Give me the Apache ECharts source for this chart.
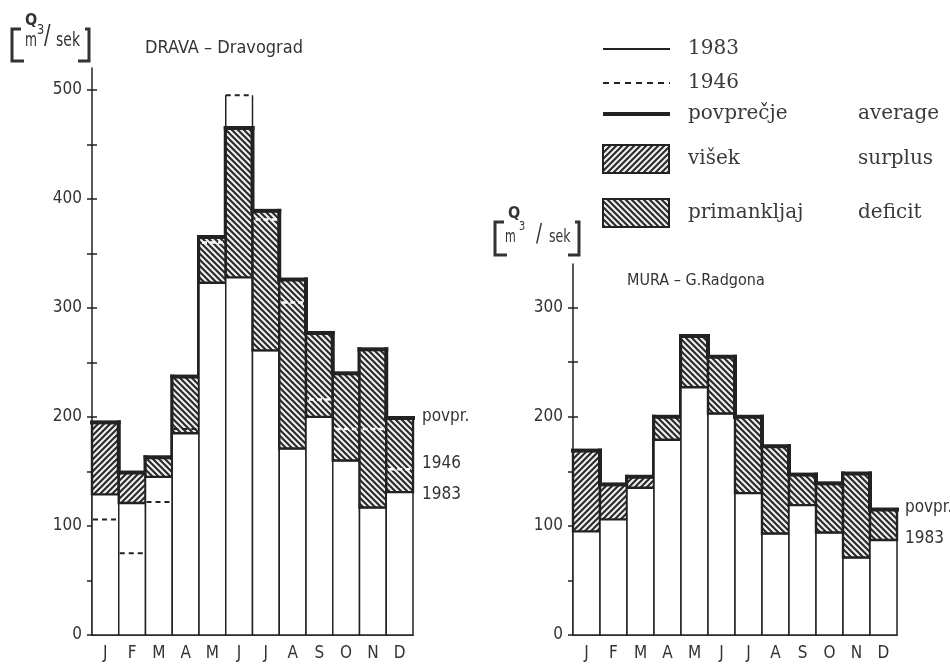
<!DOCTYPE html>
<html>
<head>
<meta charset="utf-8">
<script src="https://cdn.jsdelivr.net/npm/echarts@6/dist/echarts.min.js"></script>
<style>
html, body { margin: 0; padding: 0; background: #fff; }
#chart { width: 950px; height: 664px; }
</style>
</head>
<body>
<div id="chart"></div>
<script>
// Monthly discharge, m3/s
const months = ['J', 'F', 'M', 'A', 'M', 'J', 'J', 'A', 'S', 'O', 'N', 'D'];

// Drava at Dravograd
const dravaAvg  = [195, 149, 163, 237, 365, 465, 389, 326, 277, 240, 262, 199];
const drava1983 = [129, 121, 145, 185, 323, 328, 261, 171, 200, 160, 117, 131];
const drava1946 = [106, 75, 122, 189, 360, 495, 381, 305, 216, 189, 189, 152];
// 's' = surplus (višek), 'd' = deficit (primankljaj)
const dravaKind = ['s', 's', 'd', 'd', 'd', 'd', 'd', 'd', 'd', 'd', 'd', 'd'];

// Mura at Gornja Radgona
const muraAvg  = [169, 138, 145, 200, 274, 255, 200, 173, 147, 139, 148, 115];
const mura1983 = [95, 106, 135, 179, 227, 203, 130, 93, 119, 94, 71, 87];
const muraKind = ['s', 's', 's', 'd', 'd', 'd', 'd', 'd', 'd', 'd', 'd', 'd'];

// Axis ticks
const dravaTicks = [0, 50, 100, 150, 200, 250, 300, 350, 400, 450, 500];
const dravaTickLabels = [0, 100, 200, 300, 400, 500];
const muraTicks = [0, 50, 100, 150, 200, 250, 300];
const muraTickLabels = [0, 100, 200, 300];

const SANS = "'DejaVu Sans Condensed', 'Liberation Sans Narrow', sans-serif";
const SERIF = "'DejaVu Serif', serif";
const INK = '#222';
const TXT = '#333';

// Diagonal hatch tiles: 'up' draws ////, 'down' draws \\\\
function hatchTile(dir) {
  const s = 6;
  const c = document.createElement('canvas');
  c.width = s; c.height = s;
  const g = c.getContext('2d');
  g.fillStyle = '#f0f0f0';
  g.fillRect(0, 0, s, s);
  g.strokeStyle = '#2a2a2a';
  g.lineWidth = 2.1;
  g.beginPath();
  if (dir === 'up') {
    g.moveTo(-1, s + 1); g.lineTo(s + 1, -1);
    g.moveTo(-1, 1); g.lineTo(1, -1);
    g.moveTo(s - 1, s + 1); g.lineTo(s + 1, s - 1);
  } else {
    g.moveTo(-1, -1); g.lineTo(s + 1, s + 1);
    g.moveTo(s - 1, -1); g.lineTo(s + 1, 1);
    g.moveTo(-1, s - 1); g.lineTo(1, s + 1);
  }
  g.stroke();
  return c;
}
const patSurplus = { image: hatchTile('up'), repeat: 'repeat' };
const patDeficit = { image: hatchTile('down'), repeat: 'repeat' };

function rows(avg, v83, v46, kind) {
  return avg.map((a, i) => [
    i, a, v83[i], v46 ? v46[i] : null, kind[i] === 's' ? 1 : 0,
    i < avg.length - 1 ? avg[i + 1] : null
  ]);
}

function renderMonth(params, api) {
  const i = api.value(0);
  const a = api.value(1), b = api.value(2), h = api.value(3);
  const surplus = api.value(4) === 1;
  const next = api.value(5);
  const w = api.size([1, 0])[0];
  const base = api.coord([i, 0]);
  const x0 = base[0] - w / 2, x1 = base[0] + w / 2;
  const y0 = base[1];
  const yA = api.coord([i, a])[1];
  const yB = api.coord([i, b])[1];
  const kids = [];

  // 1983 flow
  kids.push({ type: 'rect', shape: { x: x0, y: yB, width: w, height: y0 - yB },
    style: { fill: '#fff', stroke: INK, lineWidth: 1.5 } });
  // gap between 1983 and the long-term average
  kids.push({ type: 'rect', shape: { x: x0, y: yA, width: w, height: yB - yA },
    style: { fill: surplus ? patSurplus : patDeficit, stroke: INK, lineWidth: 2.4 } });

  // 1946 flow
  if (!isNaN(h) && h !== null) {
    const yH = api.coord([i, h])[1];
    if (h > a) {
      kids.push({ type: 'line', shape: { x1: x0, y1: yH, x2: x0, y2: yA }, style: { stroke: INK, lineWidth: 1.5 } });
      kids.push({ type: 'line', shape: { x1: x1, y1: yH, x2: x1, y2: yA }, style: { stroke: INK, lineWidth: 1.5 } });
      kids.push({ type: 'line', shape: { x1: x0, y1: yH, x2: x1, y2: yH },
        style: { stroke: INK, lineWidth: 2, lineDash: [5, 4] } });
    } else if (yB - yH > 6) {
      kids.push({ type: 'line', shape: { x1: x0 + 3, y1: yH, x2: x1 - 3, y2: yH },
        style: { stroke: '#fff', lineWidth: 2.5, lineDash: [5, 3] } });
    } else {
      kids.push({ type: 'line', shape: { x1: x0 + 1, y1: yH, x2: x1 - 1, y2: yH },
        style: { stroke: INK, lineWidth: 2, lineDash: [5, 4] } });
    }
  }

  // long-term average (povprečje) as a heavy step line
  kids.push({ type: 'line', shape: { x1: x0, y1: yA, x2: x1, y2: yA },
    style: { stroke: INK, lineWidth: 4, lineCap: 'square' } });
  if (next !== null && !isNaN(next)) {
    const yN = api.coord([i + 1, next])[1];
    kids.push({ type: 'line', shape: { x1: x1, y1: yA, x2: x1, y2: yN },
      style: { stroke: INK, lineWidth: 4, lineCap: 'square' } });
  }
  return { type: 'group', children: kids };
}

function xAx(g) {
  return {
    type: 'category', gridIndex: g, data: months, boundaryGap: true,
    axisLine: { lineStyle: { color: INK, width: 1.5 } },
    axisTick: { show: false },
    axisLabel: { fontFamily: SANS, fontSize: 17, color: TXT, margin: 10 }
  };
}
function yAx(g, max, ticks, labels, inside) {
  return {
    type: 'value', gridIndex: g, min: 0, max: max, position: 'left',
    axisLine: { show: !inside, lineStyle: { color: INK, width: 1.5 } },
    axisTick: { show: true, inside: inside, length: 5, customValues: ticks,
      lineStyle: { color: INK, width: 1.5 } },
    axisLabel: { show: !inside, customValues: labels, fontFamily: SANS, fontSize: 17,
      color: TXT, margin: 10 },
    splitLine: { show: false }
  };
}

// Unit caption [Q m3/sek]; l/r = bracket edges, t/b = bracket top/bottom
function txt(x, y, text, size, sx, bold) {
  return { type: 'text', x: x, y: y, scaleX: sx,
    style: { text: text, font: (bold ? 'bold ' : '') + size + 'px ' + SANS, fill: TXT, textVerticalAlign: 'middle' } };
}
function unitLabel(o) {
  const t = o.t, b = o.b;
  return [
    { type: 'polyline', shape: { points: [[o.l + 9, t], [o.l, t], [o.l, b], [o.l + 12, b]] },
      style: { stroke: TXT, lineWidth: 3, fill: null } },
    { type: 'polyline', shape: { points: [[o.r - 4, t], [o.r, t], [o.r, b], [o.r - 11, b]] },
      style: { stroke: TXT, lineWidth: 3, fill: null } },
    txt(o.q, o.qy, 'Q', 16, 1, true),
    txt(o.m, o.my, 'm', o.fs, 0.72),
    txt(o.e, o.ey, '3', o.fs - 5, 0.9),
    txt(o.s, o.sy, '/', o.fs + 8, 0.8),
    txt(o.k, o.my, 'sek', o.fs, 0.82)
  ];
}

function legendRow(y, kind, label, label2) {
  const out = [];
  if (kind === 'thin') {
    out.push({ type: 'line', shape: { x1: 603, y1: y, x2: 670, y2: y }, style: { stroke: INK, lineWidth: 1.8 } });
  } else if (kind === 'dash') {
    out.push({ type: 'line', shape: { x1: 603, y1: y, x2: 670, y2: y }, style: { stroke: INK, lineWidth: 1.8, lineDash: [6, 5] } });
  } else if (kind === 'thick') {
    out.push({ type: 'line', shape: { x1: 603, y1: y, x2: 670, y2: y }, style: { stroke: INK, lineWidth: 4 } });
  } else {
    out.push({ type: 'rect', shape: { x: 603, y: y - 14, width: 66, height: 28 },
      style: { fill: kind === 's' ? patSurplus : patDeficit, stroke: INK, lineWidth: 2 } });
  }
  out.push({ type: 'text', x: 688, y: y, style: { text: label, font: '20px ' + SERIF, fill: '#3a3a3a', textVerticalAlign: 'middle' } });
  if (label2) {
    out.push({ type: 'text', x: 858, y: y, style: { text: label2, font: '20px ' + SERIF, fill: '#3a3a3a', textVerticalAlign: 'middle' } });
  }
  return out;
}

function sideText(x, y, t) {
  return { type: 'text', x: x, y: y, style: { text: t, font: '17px ' + SANS, fill: TXT, textVerticalAlign: 'middle' } };
}

const chart = echarts.init(document.getElementById('chart'), null, { renderer: 'canvas' });
chart.setOption({
  animation: false,
  backgroundColor: '#fff',
  grid: [
    { left: 92, top: 68, width: 321, height: 567 },
    { left: 573, top: 264, width: 324, height: 371 }
  ],
  xAxis: [xAx(0), xAx(1)],
  yAxis: [
    yAx(0, 520, dravaTicks, dravaTickLabels, false),
    yAx(0, 520, dravaTicks, [], true),
    yAx(1, 340, muraTicks, muraTickLabels, false),
    yAx(1, 340, muraTicks, [], true)
  ],
  series: [
    { type: 'custom', name: 'DRAVA', xAxisIndex: 0, yAxisIndex: 0, clip: false,
      renderItem: renderMonth, encode: { x: 0, y: [1, 2] },
      data: rows(dravaAvg, drava1983, drava1946, dravaKind) },
    { type: 'custom', name: 'MURA', xAxisIndex: 1, yAxisIndex: 2, clip: false,
      renderItem: renderMonth, encode: { x: 0, y: [1, 2] },
      data: rows(muraAvg, mura1983, null, muraKind) }
  ],
  graphic: [].concat(
    unitLabel({ l: 12, r: 89, t: 29, b: 61, q: 25, qy: 21, m: 25, my: 41, e: 37, ey: 30,
      s: 44, sy: 37, k: 56, fs: 19 }),
    unitLabel({ l: 495, r: 579, t: 222, b: 255, q: 508, qy: 214, m: 505, my: 238, e: 519, ey: 227,
      s: 536, sy: 234, k: 549, fs: 17 }),
    [
      { type: 'text', x: 145, y: 48, style: { text: 'DRAVA – Dravograd', font: '18px ' + SANS, fill: TXT, textVerticalAlign: 'middle' } },
      { type: 'text', x: 627, y: 281, style: { text: 'MURA – G.Radgona', font: '16px ' + SANS, fill: TXT, textVerticalAlign: 'middle' } },
      sideText(422, 417, 'povpr.'),
      sideText(422, 464, '1946'),
      sideText(422, 495, '1983'),
      sideText(905, 508, 'povpr.'),
      sideText(905, 539, '1983')
    ],
    legendRow(49, 'thin', '1983'),
    legendRow(83, 'dash', '1946'),
    legendRow(114, 'thick', 'povprečje', 'average'),
    legendRow(159, 's', 'višek', 'surplus'),
    legendRow(213, 'd', 'primankljaj', 'deficit')
  )
});
</script>
</body>
</html>
